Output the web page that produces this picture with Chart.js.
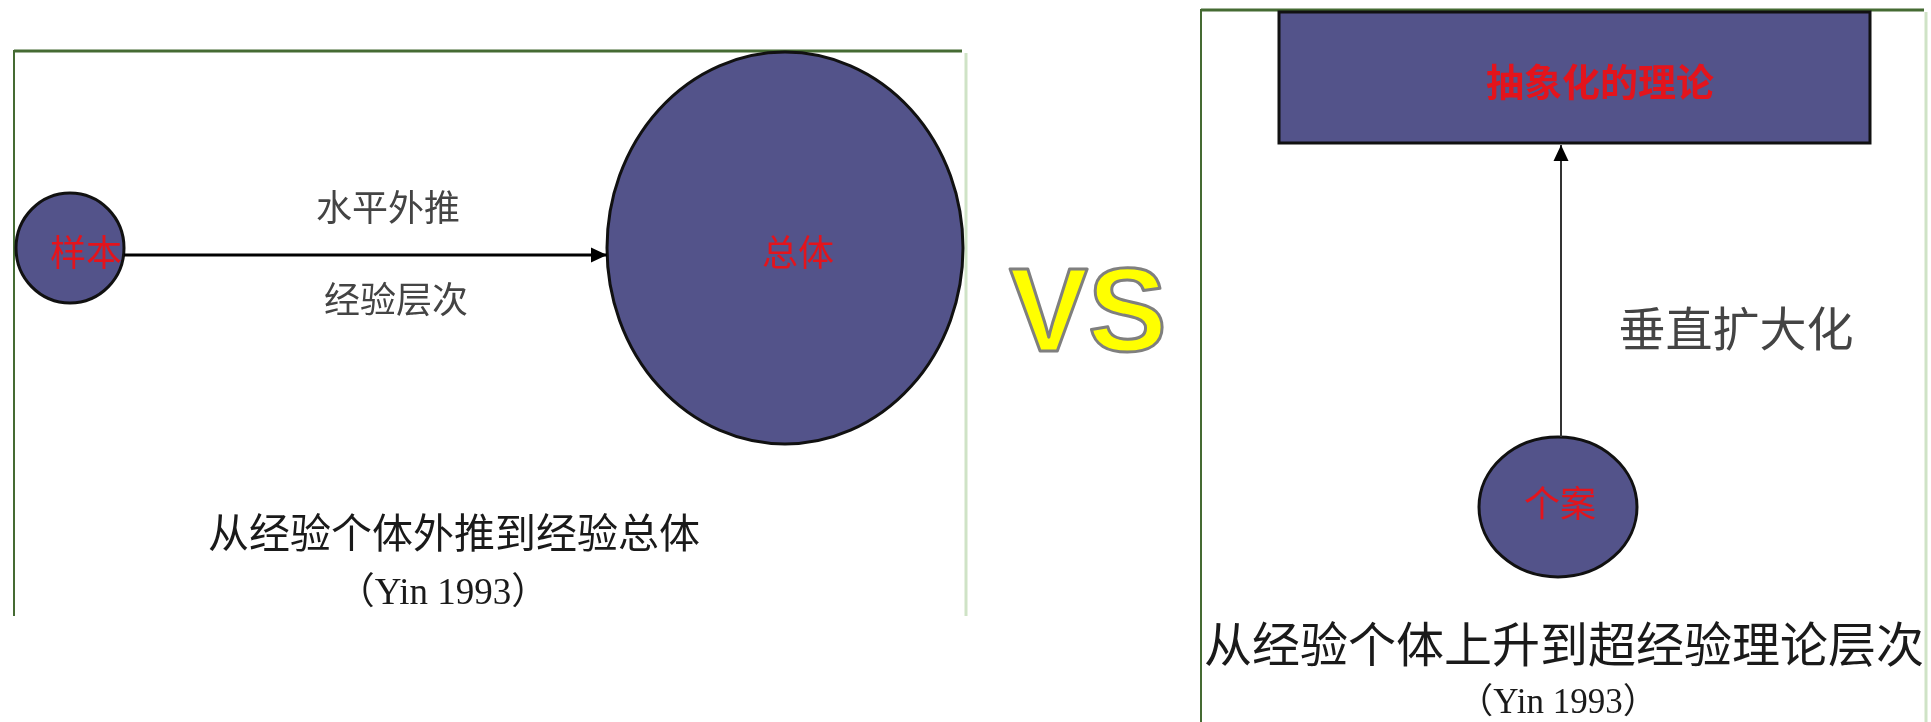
<!DOCTYPE html>
<html>
<head>
<meta charset="utf-8">
<script src="https://cdn.jsdelivr.net/npm/chart.js@4.4.0/dist/chart.umd.min.js"></script>
<style>
html, body { margin: 0; padding: 0; background: #fff; }
#wrap { width: 1931px; height: 722px; }
</style>
</head>
<body>
<div id="wrap"><canvas id="chartCanvas"></canvas></div>
<script>
// diagram units: x 0..1931, y 0..722 (y runs downwards)
const nodeLabels = ['样本', '总体', '个案'];
const nodeX = [70, 785, 1558];
const nodeY = [248, 248, 507];
const nodeRx = [54, 178, 79];
const nodeRy = [55, 196, 70];
const nodeLabelX = [86, 798, 1560];
const nodeLabelY = [252, 252, 503];

const boxLabel = '抽象化的理论';
const boxX = [1279, 1870];
const boxY = [12, 143];
const boxLabelX = 1600;
const boxLabelY = 82;

// arrows go from -> to
const arrowFromX = [124, 1561];
const arrowFromY = [255, 437];
const arrowToX = [607, 1561];
const arrowToY = [255, 145];

const edgeLabels = ['水平外推', '经验层次', '垂直扩大化'];
const edgeLabelX = [388, 396, 1736];
const edgeLabelY = [207, 299, 328];

const captions = ['从经验个体外推到经验总体', '（Yin 1993）', '从经验个体上升到超经验理论层次', '（Yin 1993）'];
const captionX = [454, 443, 1564, 1558];
const captionY = [532, 594, 644, 704];

const fill = '#53538a';
const red = '#e3141c';
const cjk = "'Noto Sans CJK SC', sans-serif";

let px = (c, v) => c.scales.x.getPixelForValue(v);
let py = (c, v) => c.scales.y.getPixelForValue(v);

function line(ctx, x1, y1, x2, y2, color, w) {
    ctx.strokeStyle = color;
    ctx.lineWidth = w;
    ctx.beginPath();
    ctx.moveTo(x1, y1);
    ctx.lineTo(x2, y2);
    ctx.stroke();
}

const shapes = {
    id: 'shapes',
    beforeDatasetsDraw(chart) {
        const ctx = chart.ctx;
        ctx.save();
        ctx.fillStyle = '#fff';
        ctx.fillRect(0, 0, chart.width, chart.height);

        // frames
        line(ctx, px(chart, 14), py(chart, 51), px(chart, 962), py(chart, 51), '#456b33', 3);
        line(ctx, px(chart, 14), py(chart, 50), px(chart, 14), py(chart, 616), '#456b33', 2);
        line(ctx, px(chart, 966), py(chart, 53), px(chart, 966), py(chart, 616), '#cfe3c6', 3);
        line(ctx, px(chart, 1201), py(chart, 10), px(chart, 1924), py(chart, 10), '#456b33', 3);
        line(ctx, px(chart, 1201), py(chart, 9), px(chart, 1201), py(chart, 722), '#456b33', 2);
        line(ctx, px(chart, 1926), py(chart, 12), px(chart, 1926), py(chart, 722), '#cfe3c6', 3);

        // theory box
        const bx = px(chart, boxX[0]), by = py(chart, boxY[0]);
        const bw = px(chart, boxX[1]) - bx, bh = py(chart, boxY[1]) - by;
        ctx.fillStyle = fill;
        ctx.fillRect(bx, by, bw, bh);
        ctx.strokeStyle = '#111';
        ctx.lineWidth = 3;
        ctx.strokeRect(bx, by, bw, bh);

        // nodes
        for (let i = 0; i < nodeLabels.length; i++) {
            const cx = px(chart, nodeX[i]), cy = py(chart, nodeY[i]);
            const rx = px(chart, nodeX[i] + nodeRx[i]) - cx;
            const ry = py(chart, nodeY[i] + nodeRy[i]) - cy;
            ctx.beginPath();
            ctx.ellipse(cx, cy, Math.abs(rx), Math.abs(ry), 0, 0, Math.PI * 2);
            ctx.fillStyle = fill;
            ctx.fill();
            ctx.strokeStyle = '#111';
            ctx.lineWidth = 3;
            ctx.stroke();
        }
        ctx.restore();
    },
    afterDatasetsDraw(chart) {
        const ctx = chart.ctx;
        ctx.save();

        // arrow heads
        for (let i = 0; i < arrowToX.length; i++) {
            const x1 = px(chart, arrowFromX[i]), y1 = py(chart, arrowFromY[i]);
            const x2 = px(chart, arrowToX[i]), y2 = py(chart, arrowToY[i]);
            const a = Math.atan2(y2 - y1, x2 - x1), len = 16, half = 7.5;
            ctx.fillStyle = '#000';
            ctx.beginPath();
            ctx.moveTo(x2, y2);
            ctx.lineTo(x2 - len * Math.cos(a) + half * Math.sin(a), y2 - len * Math.sin(a) - half * Math.cos(a));
            ctx.lineTo(x2 - len * Math.cos(a) - half * Math.sin(a), y2 - len * Math.sin(a) + half * Math.cos(a));
            ctx.closePath();
            ctx.fill();
        }

        ctx.textAlign = 'center';
        ctx.textBaseline = 'middle';

        // labels inside the shapes
        ctx.fillStyle = red;
        ctx.font = '36px ' + cjk;
        nodeLabels.forEach((t, i) => ctx.fillText(t, px(chart, nodeLabelX[i]), py(chart, nodeLabelY[i])));
        ctx.font = 'bold 38px ' + cjk;
        ctx.fillText(boxLabel, px(chart, boxLabelX), py(chart, boxLabelY));

        // edge labels
        ctx.fillStyle = '#444';
        edgeLabels.forEach((t, i) => {
            ctx.font = (i < 2 ? '36px ' : '47px ') + cjk;
            ctx.fillText(t, px(chart, edgeLabelX[i]), py(chart, edgeLabelY[i]));
        });

        // captions
        ctx.fillStyle = '#1a1a1a';
        const capFonts = ['41px ' + cjk, "37px 'Liberation Serif', " + cjk, '48px ' + cjk, "35px 'Liberation Serif', " + cjk];
        captions.forEach((t, i) => {
            ctx.font = capFonts[i];
            ctx.fillText(t, px(chart, captionX[i]), py(chart, captionY[i]));
        });

        // VS
        ctx.font = "bold 118px 'Liberation Sans', Arial, sans-serif";
        ctx.lineJoin = 'round';
        ctx.fillStyle = '#ffff00';
        ctx.fillText('VS', px(chart, 1088), py(chart, 318));
        ctx.strokeStyle = '#7f7f7f';
        ctx.lineWidth = 3;
        ctx.strokeText('VS', px(chart, 1088), py(chart, 318));
        ctx.restore();
    }
};

const arrowSets = arrowFromX.map((x, i) => ({
    data: [{x: x, y: arrowFromY[i]}, {x: arrowToX[i], y: arrowToY[i]}],
    showLine: true,
    borderColor: i == 0 ? '#000' : '#333',
    borderWidth: i == 0 ? 3 : 2,
    pointRadius: 0,
    fill: false
}));

Chart.defaults.animation = false;
const chart = new Chart(document.getElementById('chartCanvas'), {
    type: 'scatter',
    data: { datasets: arrowSets },
    options: {
        responsive: true,
        maintainAspectRatio: false,
        devicePixelRatio: 1,
        layout: { padding: 0 },
        plugins: { legend: { display: false }, tooltip: { enabled: false } },
        scales: {
            x: { type: 'linear', min: 0, max: 1931, display: false },
            y: { type: 'linear', min: 0, max: 722, reverse: true, display: false }
        }
    },
    plugins: [shapes]
});
</script>
</body>
</html>
